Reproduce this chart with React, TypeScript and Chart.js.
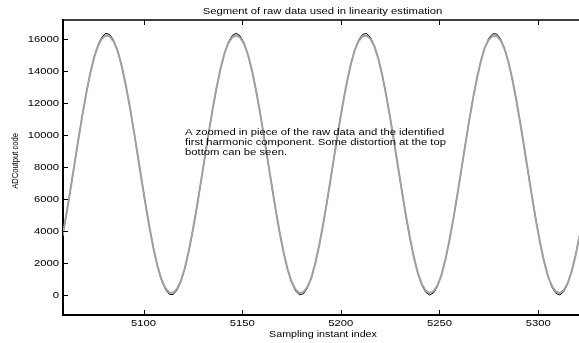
import { useEffect, useRef } from "react";
import { Chart, registerables } from "chart.js";

Chart.register(...registerables);

// Sample numbers shown in the segment (every second sample)
const sampleIndex = [
  5059, 5061, 5063, 5065, 5067, 5069, 5071, 5073, 5075, 5077, 5079, 5081, 5083, 5085, 5087, 5089,
  5091, 5093, 5095, 5097, 5099, 5101, 5103, 5105, 5107, 5109, 5111, 5113, 5115, 5117, 5119, 5121,
  5123, 5125, 5127, 5129, 5131, 5133, 5135, 5137, 5139, 5141, 5143, 5145, 5147, 5149, 5151, 5153,
  5155, 5157, 5159, 5161, 5163, 5165, 5167, 5169, 5171, 5173, 5175, 5177, 5179, 5181, 5183, 5185,
  5187, 5189, 5191, 5193, 5195, 5197, 5199, 5201, 5203, 5205, 5207, 5209, 5211, 5213, 5215, 5217,
  5219, 5221, 5223, 5225, 5227, 5229, 5231, 5233, 5235, 5237, 5239, 5241, 5243, 5245, 5247, 5249,
  5251, 5253, 5255, 5257, 5259, 5261, 5263, 5265, 5267, 5269, 5271, 5273, 5275, 5277, 5279, 5281,
  5283, 5285, 5287, 5289, 5291, 5293, 5295, 5297, 5299, 5301, 5303, 5305, 5307, 5309, 5311, 5313,
  5315, 5317, 5319, 5321,
];

// Raw ADC output codes (grey trace): compressed near both ends of the range
const rawCode = [
  3712, 5100, 6601, 8161, 9721, 11225, 12616, 13845, 14866, 15600, 16040, 16220, 16150, 15820, 15207, 14280,
  13129, 11796, 10332, 8786, 7220, 5689, 4250, 2953, 1849, 1010, 440, 160, 140, 380, 900, 1702,
  2775, 4045, 5467, 6988, 8554, 10105, 11586, 12941, 14120, 15085, 15750, 16110, 16230, 16080, 15690, 14999,
  14012, 12810, 11441, 9950, 8394, 6832, 5317, 3908, 2657, 1609, 840, 350, 130, 180, 490, 1055,
  1951, 3076, 4390, 5841, 7380, 8947, 10486, 11940, 13258, 14385, 15288, 15870, 16160, 16210, 16010, 15540,
  14773, 13731, 12480, 11074, 9563, 7999, 6443, 4951, 3576, 2373, 1380, 690, 270, 120, 230, 610,
  1257, 2215, 3393, 4745, 6224, 7775, 9340, 10863, 12287, 13563, 14637, 15476, 15960, 16200, 16190, 15920,
  15370, 14528, 13430, 12137, 10699, 9170, 7603, 6058, 4590, 3253, 2098, 1167, 560, 200, 120, 300,
  750, 1476, 2495, 3720,
];

// Identified first harmonic component (black trace)
const harmonicCode = [
  3712, 5100, 6601, 8161, 9721, 11225, 12616, 13845, 14866, 15643, 16144, 16354, 16264, 15877, 15207, 14280,
  13129, 11796, 10332, 8786, 7220, 5689, 4250, 2953, 1849, 978, 371, 50, 27, 304, 869, 1702,
  2775, 4045, 5467, 6988, 8554, 10105, 11586, 12941, 14120, 15085, 15795, 16224, 16360, 16195, 15735, 14999,
  14012, 12810, 11441, 9950, 8394, 6832, 5317, 3908, 2657, 1609, 799, 262, 15, 69, 419, 1055,
  1951, 3076, 4390, 5841, 7380, 8947, 10486, 11940, 13258, 14385, 15288, 15929, 16287, 16346, 16107, 15575,
  14773, 13731, 12480, 11074, 9563, 7999, 6443, 4951, 3576, 2373, 1380, 637, 172, 1, 130, 554,
  1257, 2215, 3393, 4745, 6224, 7775, 9340, 10863, 12287, 13563, 14637, 15476, 16048, 16331, 16313, 15998,
  15397, 14528, 13430, 12137, 10699, 9170, 7603, 6058, 4590, 3253, 2098, 1167, 492, 100, 5, 210,
  706, 1476, 2495, 3720,
];

const xTicks = [5100, 5150, 5200, 5250, 5300];
const yTicks = [0, 2000, 4000, 6000, 8000, 10000, 12000, 14000, 16000];

const titleText = "Segment of raw data used in linearity estimation";
const xLabel = "Sampling instant index";
const yLabel = "ADCoutput code";
const noteLines = [
  "A zoomed in piece of the raw data and the identified",
  "first harmonic component. Some distortion at the top",
  "bottom can be seen.",
];

const FONT = '"Liberation Sans", Arial, Helvetica, sans-serif';
const STRETCH = 1.28;

function wideText(
  ctx: CanvasRenderingContext2D,
  text: string,
  x: number,
  y: number,
  size: number,
  align: CanvasTextAlign,
  baseline: CanvasTextBaseline,
  vertical = false
) {
  ctx.save();
  ctx.translate(x, y);
  ctx.scale(STRETCH, 1);
  if (vertical) ctx.rotate(-Math.PI / 2);
  ctx.font = `${size}px ${FONT}`;
  ctx.textAlign = align;
  ctx.textBaseline = baseline;
  ctx.fillStyle = "#000";
  ctx.fillText(text, 0, 0);
  ctx.restore();
}

// Boxed axes with inward ticks, labels and the text note
const framePlugin = {
  id: "framePlugin",
  afterDraw(chart: any) {
    const { ctx, chartArea: a, scales } = chart;
    const xs = scales.x;
    const ys = scales.y;
    ctx.save();
    ctx.strokeStyle = "#000";
    ctx.lineWidth = 1.5;
    ctx.beginPath();
    ctx.moveTo(a.left, a.top);
    ctx.lineTo(a.right, a.top);
    ctx.stroke();

    ctx.lineWidth = 1;
    ctx.beginPath();
    for (const v of xTicks) {
      const px = Math.round(xs.getPixelForValue(v)) + 0.5;
      ctx.moveTo(px, a.bottom);
      ctx.lineTo(px, a.bottom - 5);
      ctx.moveTo(px, a.top);
      ctx.lineTo(px, a.top + 5);
    }
    for (const v of yTicks) {
      const py = Math.round(ys.getPixelForValue(v)) + 0.5;
      ctx.moveTo(a.left, py);
      ctx.lineTo(a.left + 5, py);
    }
    ctx.stroke();
    ctx.restore();

    for (const v of xTicks) {
      wideText(ctx, String(v), xs.getPixelForValue(v), a.bottom + 11, 8.8, "center", "alphabetic");
    }
    for (const v of yTicks) {
      wideText(ctx, String(v), a.left - 4, ys.getPixelForValue(v) + 3.1, 8.8, "right", "alphabetic");
    }

    wideText(ctx, titleText, 322.5, 14, 8.8, "center", "alphabetic");
    wideText(ctx, xLabel, 323, 336.5, 8.4, "center", "alphabetic");
    wideText(ctx, yLabel, 15, 161, 7.6, "center", "middle", true);
    noteLines.forEach((line, i) => {
      wideText(ctx, line, 185, 135 + i * 10, 8.8, "left", "alphabetic");
    });
  },
};

export default function App() {
  const canvasRef = useRef<HTMLCanvasElement | null>(null);

  useEffect(() => {
    const canvas = canvasRef.current;
    if (!canvas) return;
    const chart = new Chart(canvas, {
      type: "line",
      data: {
        datasets: [
          {
            label: "raw data",
            data: sampleIndex.map((x, i) => ({ x, y: rawCode[i] })),
            borderColor: "#a0a0a0",
            borderWidth: 2,
            pointRadius: 0,
            tension: 0,
          },
          {
            label: "first harmonic",
            data: sampleIndex.map((x, i) => ({ x, y: harmonicCode[i] })),
            borderColor: "#000000",
            borderWidth: 1,
            pointRadius: 0,
            tension: 0,
          },
        ],
      },
      options: {
        responsive: false,
        animation: false,
        events: [],
        layout: { padding: { top: 20, left: 0, right: 0, bottom: 0 } },
        plugins: {
          legend: { display: false },
          title: { display: false },
          tooltip: { enabled: false },
        },
        scales: {
          x: {
            type: "linear",
            min: 5059.2,
            max: 5320.7,
            afterBuildTicks: (s: any) => {
              s.ticks = xTicks.map((value) => ({ value }));
            },
            afterFit: (s: any) => {
              s.height = 28;
            },
            ticks: { display: false },
            grid: { display: false },
            border: { display: true, color: "#000", width: 2 },
          },
          y: {
            type: "linear",
            min: -1250,
            max: 17187.5,
            afterBuildTicks: (s: any) => {
              s.ticks = yTicks.map((value) => ({ value }));
            },
            afterFit: (s: any) => {
              s.width = 63;
            },
            ticks: { display: false },
            grid: { display: false },
            border: { display: true, color: "#000", width: 2 },
          },
        },
      },
      plugins: [framePlugin],
    });
    return () => chart.destroy();
  }, []);

  return (
    <div style={{ position: "absolute", left: 0, top: 0, width: 579, height: 343, background: "#fff" }}>
      <canvas ref={canvasRef} width={579} height={343} />
    </div>
  );
}
